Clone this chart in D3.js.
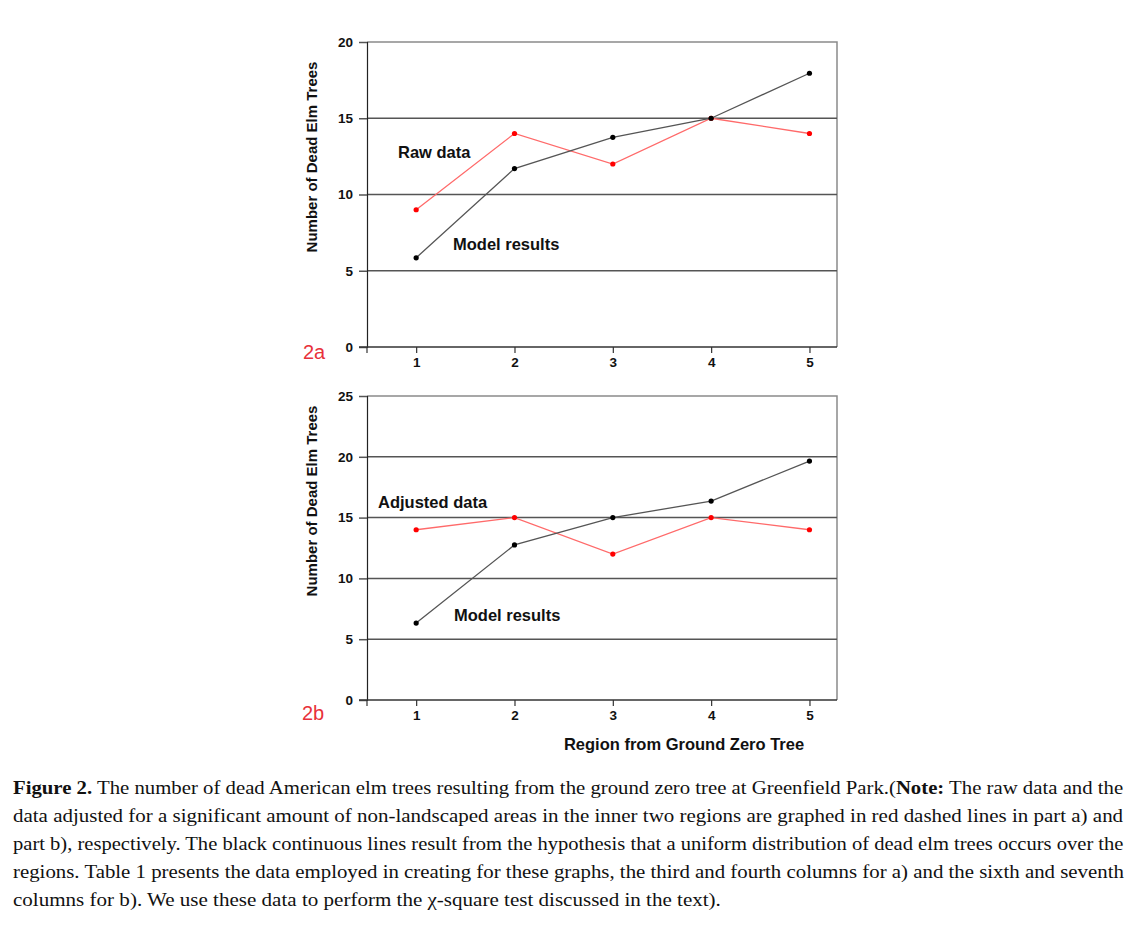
<!DOCTYPE html>
<html>
<head>
<meta charset="utf-8">
<script src="https://cdn.jsdelivr.net/npm/d3@7"></script>
<style>
  body { margin: 0; background: #fff; }
</style>
</head>
<body>
<svg id="fig" width="1142" height="925"></svg>
<script>
// data
const regions = [1, 2, 3, 4, 5];
const rawData = [9, 14, 12, 15, 14];
const modelA = [5.85, 11.7, 13.75, 15.0, 17.95];
const adjustedData = [14, 15, 12, 15, 14];
const modelB = [6.33, 12.75, 15.0, 16.36, 19.65];
const yTicksA = [0, 5, 10, 15, 20];
const yTicksB = [0, 5, 10, 15, 20, 25];
const captionLines = [
  [["b", "Figure 2."], ["n", " The number of dead American elm trees resulting from the ground zero tree at Greenfield Park.("], ["b", "Note:"], ["n", " The raw data and the"]],
  [["n", "data adjusted for a significant amount of non-landscaped areas in the inner two regions are graphed in red dashed lines in part a) and"]],
  [["n", "part b), respectively. The black continuous lines result from the hypothesis that a uniform distribution of dead elm trees occurs over the"]],
  [["n", "regions. Table 1 presents the data employed in creating for these graphs, the third and fourth columns for a) and the sixth and seventh"]],
  [["n", "columns for b). We use these data to perform the \u03c7-square test discussed in the text)."]]
];

const svg = d3.select("#fig");
const sans = "'Liberation Sans', Arial, sans-serif";
const tickStyle = "font-family:" + sans + "; font-weight:bold; font-size:13.5px; fill:#111";
const xl = 367, xr = 837;

function draw_panel(cfg) {
  var x = d3.scaleLinear().domain([0.5, 5.28]).range([xl, xr]);
  var y = d3.scaleLinear().domain([0, cfg.ymax]).range([cfg.bottom, cfg.top]);
  var g = svg.append("g");

  // plot frame (top / right)
  g.append("path")
    .attr("d", "M" + xl + "," + y(cfg.ymax) + "H" + xr + "V" + cfg.bottom)
    .attr("style", "fill:none; stroke:#8a8a8a; stroke-width:1.5");

  // grid lines
  g.selectAll(".grid").data(cfg.ticks.filter(t => t > 0 && t < cfg.ymax)).join("line")
    .attr("x1", xl).attr("x2", xr)
    .attr("y1", d => y(d)).attr("y2", d => y(d))
    .attr("style", "stroke:#555; stroke-width:1.5");

  // y axis
  var ya = g.append("g").attr("transform", "translate(" + xl + ",0)")
    .call(d3.axisLeft(y).tickValues(cfg.ticks).tickSize(8).tickPadding(6));
  ya.select(".domain").attr("style", "stroke:#222; stroke-width:1.2");
  ya.selectAll(".tick line").attr("style", "stroke:#555; stroke-width:1.5");
  ya.selectAll(".tick text").attr("style", tickStyle);

  // x axis
  var xa = g.append("g").attr("transform", "translate(0," + cfg.bottom + ")")
    .call(d3.axisBottom(x).tickValues(regions).tickFormat(d3.format("d"))
      .tickSize(6).tickPadding(4).tickSizeOuter(0));
  xa.select(".domain").attr("d", "M" + (xl - 8) + ",0H" + xr).attr("style", "stroke:#333; stroke-width:1.5");
  xa.selectAll(".tick line").attr("style", "stroke:#333; stroke-width:1.2");
  xa.selectAll(".tick text").attr("style", tickStyle);
  xa.append("line").attr("x1", xl).attr("x2", xl).attr("y1", 0).attr("y2", 6)
    .attr("style", "stroke:#333; stroke-width:1.2");

  // series
  var line = d3.line().x((d, i) => x(regions[i])).y(d => y(d));
  [[cfg.red, "#ff6a6a", "#ff0000"], [cfg.model, "#555", "#000"]].forEach(function (s) {
    g.append("path").datum(s[0]).attr("d", line)
      .attr("style", "fill:none; stroke:" + s[1] + "; stroke-width:1.3");
    g.selectAll(null).data(s[0]).join("circle")
      .attr("cx", (d, i) => x(regions[i])).attr("cy", d => y(d))
      .attr("r", 2.6)
      .attr("fill", s[2]);
  });

  // y title
  g.append("text")
    .attr("transform", "translate(317," + cfg.titleY + ") rotate(-90)")
    .attr("text-anchor", "middle")
    .attr("style", "font-family:" + sans + "; font-weight:bold; font-size:15px; fill:#111")
    .text("Number of Dead Elm Trees");

  // annotations
  cfg.notes.forEach(function (n) {
    g.append("text").attr("x", n[1]).attr("y", n[2])
      .attr("style", "font-family:" + sans + "; font-weight:bold; font-size:16.5px; fill:#111")
      .text(n[0]);
  });

  // panel label
  g.append("text").attr("x", cfg.tag[1]).attr("y", cfg.tag[2])
    .attr("style", "font-family:" + sans + "; font-size:20px; fill:#e8313a")
    .text(cfg.tag[0]);
}

draw_panel({
  ymax: 20, ticks: yTicksA, top: 42, bottom: 347, red: rawData, model: modelA, titleY: 157,
  notes: [["Raw data", 398, 158], ["Model results", 453, 250]], tag: ["2a", 303, 359]
});
draw_panel({
  ymax: 25, ticks: yTicksB, top: 396, bottom: 700, red: adjustedData, model: modelB, titleY: 501,
  notes: [["Adjusted data", 378, 508], ["Model results", 454, 621]], tag: ["2b", 302, 720]
});

svg.append("text").attr("x", 684).attr("y", 750).attr("text-anchor", "middle")
  .attr("style", "font-family:" + sans + "; font-weight:bold; font-size:16.5px; fill:#111")
  .text("Region from Ground Zero Tree");

// caption, each line stretched to the justified width
var capEnds = [1124, 1124, 1124, 1124, 721];
captionLines.forEach(function (parts, i) {
  var t = svg.append("text")
    .attr("style", "font-family:'Liberation Serif','Times New Roman',serif; font-size:18px; fill:#111");
  parts.forEach(function (p) {
    t.append("tspan").attr("font-weight", p[0] === "b" ? "bold" : "normal").text(p[1]);
  });
  var w = t.node().getComputedTextLength();
  var sx = (capEnds[i] - 13) / w;
  t.attr("transform", "translate(13," + (794 + i * 28) + ") scale(" + sx + ",1)");
});
</script>
</body>
</html>
